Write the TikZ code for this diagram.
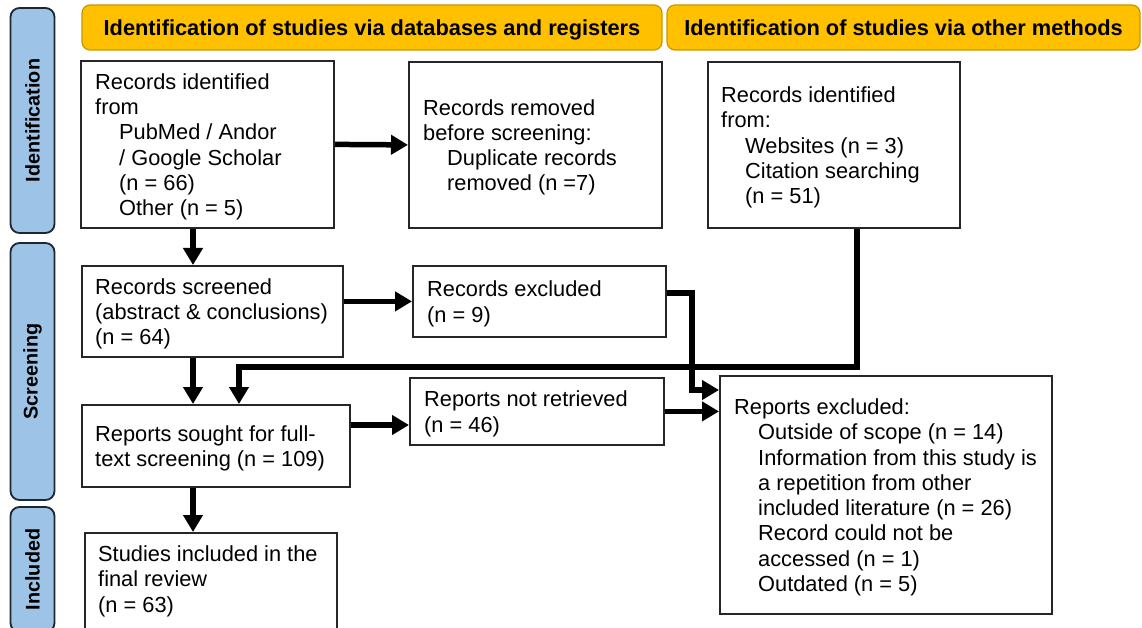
\documentclass[tikz,border=0pt]{standalone}
\usepackage{fontspec}
\setmainfont{Liberation Sans}
\usetikzlibrary{arrows.meta,calc}
\definecolor{hdrfill}{HTML}{FFC000}
\definecolor{hdrline}{HTML}{C99700}
\definecolor{sidefill}{HTML}{9DC3E6}
\definecolor{sideline}{HTML}{1E2630}
\newcommand{\subind}{\hspace*{24pt}}
\begin{document}
\begin{tikzpicture}[x=1pt,y=-1pt,
  box/.style={draw=black!85, line width=1.8pt, fill=white, rectangle, anchor=north west, inner sep=0pt},
  txt/.style={anchor=west, align=left, inner sep=0pt, yshift=-2.5pt, font=\fontsize{21.8}{25.3}\selectfont},
  hdr/.style={draw=hdrline, line width=1.2pt, fill=hdrfill, rounded corners=8pt, inner sep=0pt, text height=17pt, text depth=0pt, font=\bfseries\fontsize{21.8}{26}\selectfont},
  side/.style={draw=sideline, line width=1.8pt, fill=sidefill, rounded corners=9pt, inner sep=0pt},
  sidetxt/.style={rotate=90, inner sep=0pt, font=\bfseries\fontsize{19.8}{23}\selectfont},
  arr/.style={line width=5.5pt, -{Triangle[length=17pt,width=19pt]}},
]
\useasboundingbox (0,0) rectangle (1142,628);
\clip (0,0) rectangle (1142,628);

% phase labels on the left
\node[side, minimum width=44pt, minimum height=225pt] (s1) at (32.5,120.5) {};
\node[sidetxt] (s1t) at (s1) {Identification};
\node[side, minimum width=44pt, minimum height=257pt] (s2) at (32.5,371.5) {};
\node[sidetxt] (s2t) at (s2) {Screening};
\node[side, minimum width=44pt, minimum height=125pt] (s3) at (32.5,569.5) {};
\node[sidetxt] (s3t) at (s3) {Included};

% column headers
\node[hdr, minimum width=580pt, minimum height=45pt] (h1) at (372,27.5) {Identification of studies via databases and registers};
\node[hdr, minimum width=473pt, minimum height=45pt] (h2) at (903.5,27.5) {Identification of studies via other methods};

% flow boxes
\node[box, minimum width=253pt, minimum height=167pt] (A) at (80,60) {};
\node[txt] (At) at ([xshift=15pt]A.west) {Records identified\\from\\\subind PubMed / Andor\\\subind / Google Scholar\\\subind (n = 66)\\\subind Other (n = 5)};

\node[box, minimum width=253pt, minimum height=166pt] (B) at (408,61) {};
\node[txt] (Bt) at ([xshift=15pt]B.west) {Records removed\\before screening:\\\subind Duplicate records\\\subind removed (n =7)};

\node[box, minimum width=252pt, minimum height=166pt] (C) at (707,61) {};
\node[txt] (Ct) at ([xshift=14pt]C.west) {Records identified\\from:\\\subind Websites (n = 3)\\\subind Citation searching\\\subind (n = 51)};

\node[box, minimum width=261pt, minimum height=91pt] (D) at (81,265) {};
\node[txt] (Dt) at ([xshift=14pt]D.west) {Records screened\\(abstract \& conclusions)\\(n = 64)};

\node[box, minimum width=253pt, minimum height=71pt] (E) at (412,265) {};
\node[txt] (Et) at ([xshift=15pt]E.west) {Records excluded\\(n = 9)};

\node[box, minimum width=268pt, minimum height=82pt] (F) at (81,404) {};
\node[txt] (Ft) at ([xshift=14pt]F.west) {Reports sought for full-\\text screening (n = 109)};

\node[box, minimum width=254pt, minimum height=67pt] (G) at (409,377) {};
\node[txt] (Gt) at ([xshift=15pt]G.west) {Reports not retrieved\\(n = 46)};

\node[box, minimum width=332pt, minimum height=238pt] (H) at (719,375) {};
\node[txt] (Ht) at ([xshift=15pt]H.west) {Reports excluded:\\\subind Outside of scope (n = 14)\\\subind Information from this study is\\\subind a repetition from other\\\subind included literature (n = 26)\\\subind Record could not be\\\subind accessed (n = 1)\\\subind Outdated (n = 5)};

\node[box, minimum width=252pt, minimum height=120pt] (I) at (84,532) {};
\node[txt, anchor=north west] (It) at ([xshift=14pt,yshift=-11pt]I.north west) {Studies included in the\\final review\\(n = 63)};

% routing points for the connectors
\coordinate (spine) at (193,0);
\coordinate (cdrop) at (857,367);
\coordinate (fin) at (239,0);
\coordinate (ebend) at (692,293);
\coordinate (hin) at (0,390);
\coordinate (fg) at (0,425);

% connectors
\draw[arr] (A.east) -- (B.west);
\draw[arr] (A.south -| spine) -- (D.north -| spine);
\draw[arr] (D.east |- E.west) -- (E.west);
\draw[arr] (D.south -| spine) -- (F.north -| spine);
\draw[arr] (C.south -| cdrop) -- (cdrop) -| (F.north -| fin);
\draw[arr] (E.east |- ebend) -- (ebend) |- (H.west |- hin);
\draw[arr] (F.east |- fg) -- (G.west |- fg);
\draw[arr] (G.east) -- (G.east -| H.west);
\draw[arr] (F.south -| spine) -- (I.north -| spine);
\end{tikzpicture}
\end{document}
